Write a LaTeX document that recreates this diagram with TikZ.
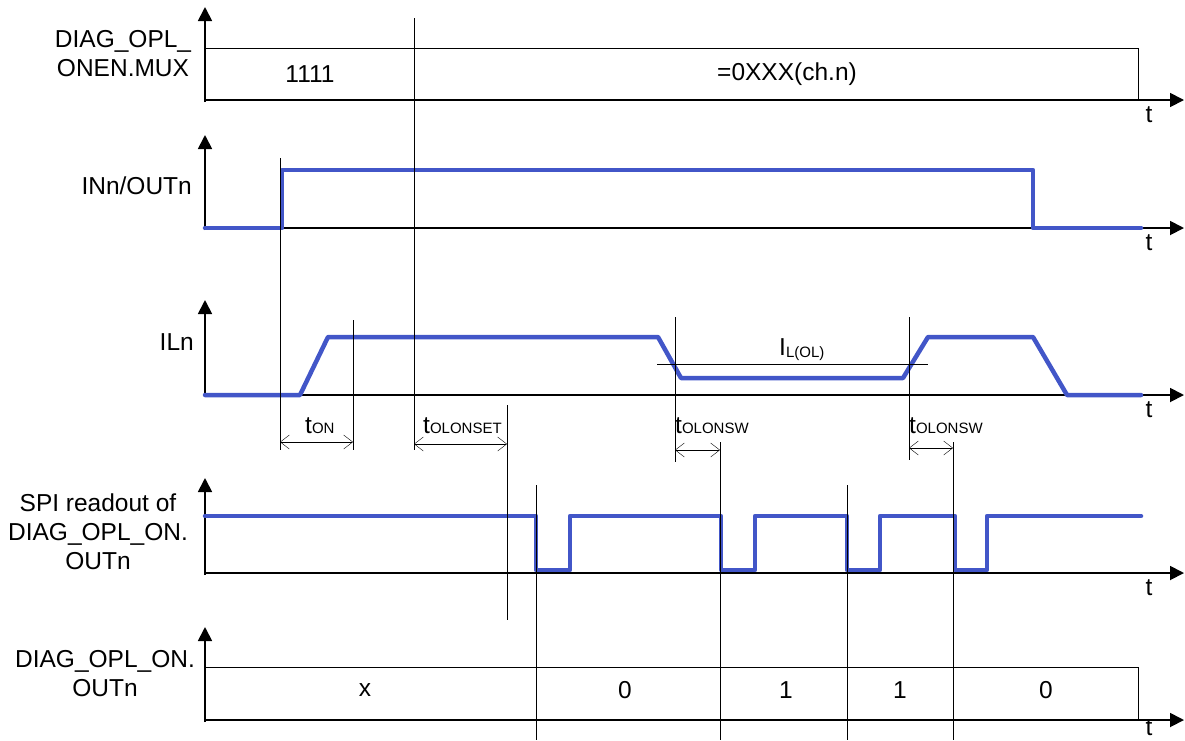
\documentclass[tikz,border=0pt]{standalone}
\usepackage{fontspec}
\setmainfont{Liberation Sans}
\usetikzlibrary{arrows.meta}
\definecolor{sig}{RGB}{66,86,200}
\definecolor{thin}{RGB}{40,40,40}
\tikzset{
  axis/.style={line width=1.8pt,black,-{Triangle[length=14pt,width=14pt]}},
  frame/.style={line width=1.1pt,thin},
  guide/.style={line width=1.1pt,thin},
  dim/.style={line width=1.1pt,thin,{Straight Barb[length=9pt,width=14pt]}-{Straight Barb[length=9pt,width=14pt]}},
  wave/.style={line width=4.5pt,sig,line cap=round,line join=round},
  lbl/.style={inner sep=0pt,font=\fontsize{24.5}{29}\selectfont,align=center},
  val/.style={inner sep=0pt,font=\fontsize{24.5}{29}\selectfont},
  tl/.style={inner sep=0pt,font=\fontsize{24.5}{29}\selectfont,anchor=base west},
}
\newcommand{\sub}[1]{{\fontsize{15}{15}\selectfont #1}}
\begin{document}
\begin{tikzpicture}[x=1pt,y=-1pt]
\useasboundingbox (0,0) rectangle (1185,740);
% ---------- axes ----------
\foreach \ya/\yt/\yl/\n in {100/7/115/a,228/135/243/b,395/300/410/c,573/478/588/d,720/627/728/e}{
  \coordinate (o\n) at (205,\ya);
  \coordinate (y\n) at (205,\yt);
  \coordinate (x\n) at (1184,\ya);
  \draw[axis] (205,\ya+2) -- (y\n);
  \draw[axis] (o\n) -- (x\n);
  \node[val] (t\n) at (1149,\yl) {t};
}
% ---------- row 1 ----------
\draw[frame] (205,48) -- (1138,48) -- (1138,100);
\node[lbl] (l1) at (123,54) {DIAG\_OPL\_\\ONEN.MUX};
\node[val] (v11) at (310,74) {1111};
\node[val] (v12) at (787,74) {=0XXX(ch.n)};
% ---------- row 2 ----------
\node[lbl,anchor=east] (l2) at (192,186) {INn/OUTn};
\draw[wave] (205,228) -- (282,228) -- (282,170) -- (1033,170) -- (1033,228) -- (1141,228);
% ---------- row 3 ----------
\node[lbl,anchor=east] (l3) at (194,342) {ILn};
\draw[wave] (205,395) -- (300,395) -- (328,337) -- (658,337) -- (681,378) -- (903,378) -- (928,337) -- (1033,337) -- (1067,395) -- (1141,395);
\draw[guide] (657,364) -- (928,364);
\node[tl] (il) at (779,355) {I\raisebox{-2pt}{\sub{L(OL)}}};
% ---------- row 4 ----------
\node[lbl] (l4) at (98,532) {SPI readout of\\DIAG\_OPL\_ON.\\OUTn};
\draw[wave] (205,516) -- (536,516) -- (536,570) -- (570,570) -- (570,516) -- (721,516) -- (721,570) -- (755,570) -- (755,516) -- (847,516) -- (847,570) -- (880,570) -- (880,516) -- (955,516) -- (955,570) -- (987,570) -- (987,516) -- (1141,516);
% ---------- row 5 ----------
\draw[frame] (205,667) -- (1138,667) -- (1138,720);
\node[lbl] (l5) at (105,674) {DIAG\_OPL\_ON.\\OUTn};
\node[val] (v51) at (365,690) {x};
\node[val] (v52) at (625,690) {0};
\node[val] (v53) at (786,690) {1};
\node[val] (v54) at (900,690) {1};
\node[val] (v55) at (1046,690) {0};
% ---------- guide lines ----------
\draw[guide] (280,158) -- (280,450);
\draw[guide] (353,320) -- (353,450);
\draw[guide] (414,18) -- (414,450);
\draw[guide] (507,405) -- (507,620);
\draw[guide] (675,317) -- (675,462);
\draw[guide] (909,317) -- (909,460);
\draw[guide] (720,442) -- (720,740);
\draw[guide] (953,442) -- (953,740);
\draw[guide] (536,485) -- (536,740);
\draw[guide] (847,485) -- (847,740);
% ---------- dimensions ----------
\coordinate (d1a) at (280,442); \coordinate (d1b) at (353,442);
\coordinate (d2a) at (414,444); \coordinate (d2b) at (507,444);
\coordinate (d3a) at (675,450); \coordinate (d3b) at (720,450);
\coordinate (d4a) at (909,448); \coordinate (d4b) at (953,448);
\draw[dim] (d1a) -- (d1b);
\draw[dim] (d2a) -- (d2b);
\draw[dim] (d3a) -- (d3b);
\draw[dim] (d4a) -- (d4b);
\node[tl] (ton) at (305,433) {t\sub{ON}};
\node[tl] (tset) at (423,433) {t\sub{OLONSET}};
\node[tl] (tsw1) at (675,433) {t\sub{OLONSW}};
\node[tl] (tsw2) at (909,433) {t\sub{OLONSW}};
\end{tikzpicture}
\end{document}
